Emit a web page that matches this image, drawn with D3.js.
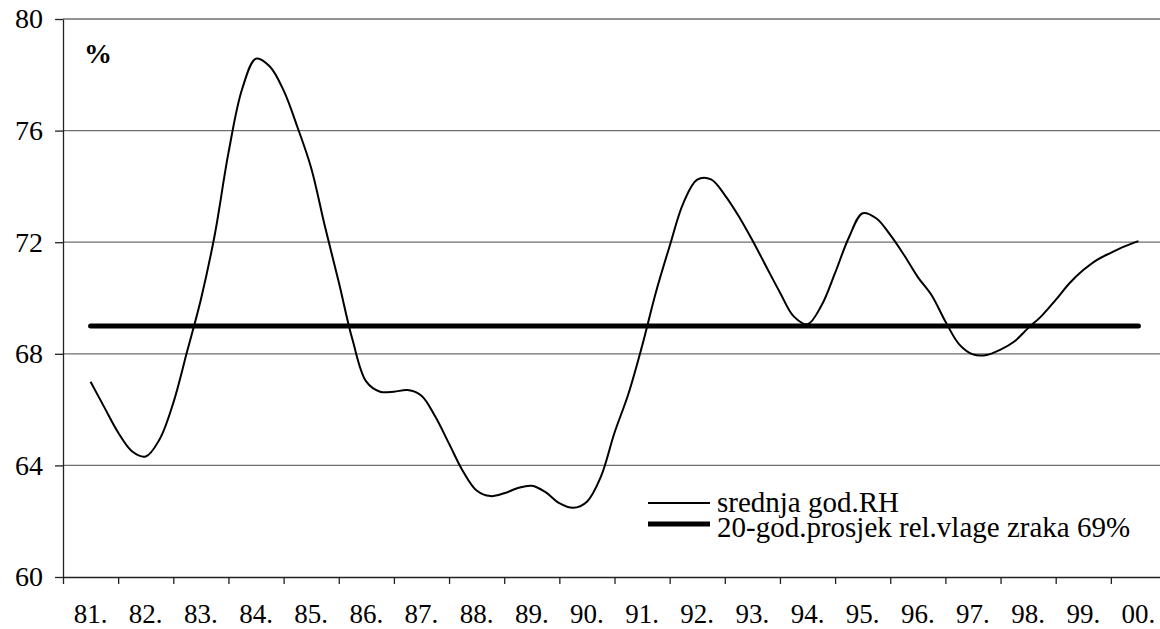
<!DOCTYPE html>
<html>
<head>
<meta charset="utf-8">
<script src="https://cdn.jsdelivr.net/npm/d3@7"></script>
<style>
  body { margin: 0; background: #fff; }
  svg text { font-family: "Liberation Serif", "DejaVu Serif", serif; fill: #000; }
</style>
</head>
<body>
<div id="chart"></div>
<script>
// year labels on the x axis
const years = ["81.", "82.", "83.", "84.", "85.", "86.", "87.", "88.", "89.", "90.",
  "91.", "92.", "93.", "94.", "95.", "96.", "97.", "98.", "99.", "00."];

// srednja god. RH, read quarterly from mid 1981 to mid 2000
const rhValues = [
  67.0, 66.08, 65.18, 64.51, 64.32, 64.93, 66.24, 68.08, 69.95, 72.25,
  75.2, 77.5, 78.58, 78.3, 77.44, 76.13, 74.66, 72.56, 70.57, 68.5,
  67.0, 66.64, 66.64, 66.7, 66.5, 65.75, 64.78, 63.8, 63.1, 62.9,
  63.0, 63.19, 63.27, 63.04, 62.65, 62.48, 62.7, 63.58, 65.17, 66.55,
  68.28, 70.2, 71.86, 73.41, 74.24, 74.25, 73.69, 72.94, 72.07, 71.13,
  70.2, 69.34, 69.06, 69.72, 70.9, 72.17, 73.04, 72.85, 72.26, 71.54,
  70.75, 70.1, 69.16, 68.34, 67.98, 67.96, 68.15, 68.44, 68.92, 69.37,
  69.93, 70.53, 71.0, 71.37, 71.62, 71.85, 72.04
];

// 20 year average
const avgValue = 69;

const yTicks = [60, 64, 68, 72, 76, 80];
const legendLabels = ["srednja god.RH", "20-god.prosjek rel.vlage zraka 69%"];

const width = 1160;
const height = 629;
const plotLeft = 63;
const plotRight = 1166;
const plotTop = 19;
const plotBottom = 577;
const serif = '"Liberation Serif", "DejaVu Serif", serif';

const svg = d3
  .select("#chart")
  .append("svg")
  .attr("width", width)
  .attr("height", height);

const x = d3.scaleBand().domain(years).range([plotLeft, plotRight]);
const xYear = d3.scaleLinear().domain([0, years.length]).range([plotLeft, plotRight]);
const y = d3.scaleLinear().domain([60, 80]).range([plotBottom, plotTop]);

// horizontal grid lines
svg
  .append("g")
  .selectAll("line")
  .data(yTicks.filter((v) => v > 60))
  .join("line")
  .attr("x1", plotLeft)
  .attr("x2", width)
  .attr("y1", (d) => y(d))
  .attr("y2", (d) => y(d))
  .attr("stroke", "#6e6e6e")
  .attr("stroke-width", 1.3);

// y axis
const yAxis = svg
  .append("g")
  .attr("transform", `translate(${plotLeft},0)`)
  .call(d3.axisLeft(y).tickValues(yTicks).tickSize(8).tickSizeOuter(0).tickPadding(12));
yAxis.attr("font-family", serif).attr("font-size", 28);

// x axis: ticks between the years
svg
  .append("g")
  .attr("transform", `translate(0,${plotBottom})`)
  .call(
    d3.axisBottom(xYear)
      .tickValues(d3.range(0, years.length + 1))
      .tickSize(7)
      .tickSizeOuter(0)
      .tickFormat("")
  );

// x axis labels in the middle of each year
const xLabels = svg
  .append("g")
  .attr("transform", `translate(0,${plotBottom})`)
  .call(d3.axisBottom(x).tickSize(0).tickPadding(27));
xLabels.select(".domain").remove();
xLabels.attr("font-family", serif).attr("font-size", 27);

svg.selectAll(".domain, .tick line").attr("stroke", "#222").attr("stroke-width", 1.3);

// average line
svg
  .append("line")
  .attr("x1", xYear(0.5))
  .attr("x2", xYear(years.length - 0.5))
  .attr("y1", y(avgValue))
  .attr("y2", y(avgValue))
  .attr("stroke", "#000")
  .attr("stroke-width", 5)
  .attr("stroke-linecap", "round");

// yearly mean line
const line = d3
  .line()
  .x((d, i) => xYear(0.5 + i / 4))
  .y((d) => y(d))
  .curve(d3.curveCatmullRom.alpha(0.5));

svg
  .append("path")
  .datum(rhValues)
  .attr("d", line)
  .attr("fill", "none")
  .attr("stroke", "#000")
  .attr("stroke-width", 2);

// unit label
svg
  .append("text")
  .attr("x", 84)
  .attr("y", 63)
  .attr("font-family", serif)
  .attr("font-size", 28)
  .attr("font-weight", "bold")
  .text("%");

// legend
const legend = svg.append("g").attr("transform", "translate(648,0)");
const legendRows = [
  { label: legendLabels[0], width: 2, lineY: 503, textY: 512 },
  { label: legendLabels[1], width: 5, lineY: 524, textY: 537 }
];
legendRows.forEach((row) => {
  legend
    .append("line")
    .attr("x1", 0)
    .attr("x2", 62)
    .attr("y1", row.lineY)
    .attr("y2", row.lineY)
    .attr("stroke", "#000")
    .attr("stroke-width", row.width);
  legend
    .append("text")
    .attr("x", 69)
    .attr("y", row.textY)
    .attr("font-family", serif)
    .attr("font-size", 29)
    .text(row.label);
});
</script>
</body>
</html>
